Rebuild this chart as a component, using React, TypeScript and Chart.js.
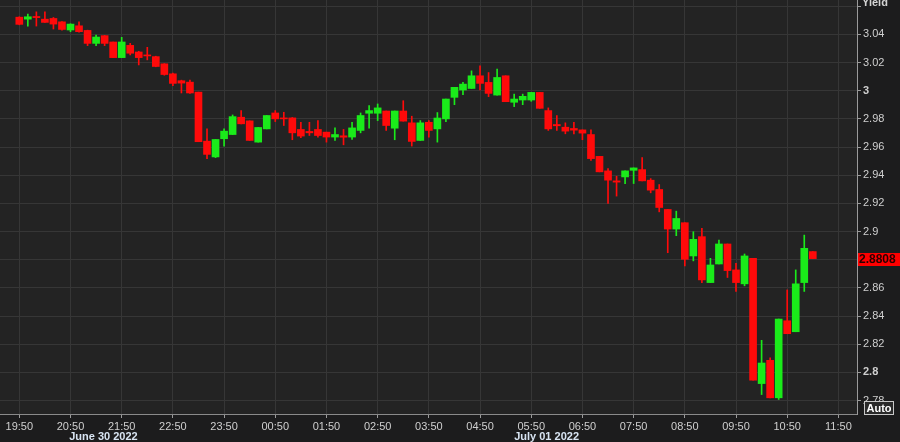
import React, { useEffect, useRef } from "react";
import { Chart, registerables } from "chart.js";

Chart.register(...registerables);

// 10-minute candles starting 19:50 (June 30 2022)
const opens = [
  3.0522, 3.0508, 3.0527, 3.0508, 3.0513, 3.0489, 3.0431, 3.0461, 3.0428, 3.0336,
  3.0391, 3.0346, 3.0235, 3.0322, 3.0275, 3.0254, 3.0242, 3.0191, 3.012, 3.0071,
  3.0061, 2.999, 2.9642, 2.953, 2.9659, 2.9689, 2.9812, 2.9786, 2.9635, 2.9729,
  2.9842, 2.9807, 2.9807, 2.9725, 2.9711, 2.9725, 2.9706, 2.9671, 2.968, 2.9671,
  2.9718, 2.984, 2.984, 2.9856, 2.9734, 2.9856, 2.9772, 2.9647, 2.9776, 2.9729,
  2.98, 2.9953, 3.0005, 3.0016, 3.0106, 3.0059, 2.9969, 3.0106, 2.9918, 2.9934,
  2.9934, 2.9988, 2.9859, 2.976, 2.9741, 2.9732, 2.9722, 2.9689, 2.9534, 2.9431,
  2.936, 2.9388, 2.9435, 2.944, 2.9365, 2.9299, 2.9157, 2.9018, 2.9063, 2.8827,
  2.8964, 2.8638, 2.877, 2.8912, 2.8728, 2.8629, 2.881, 2.7921, 2.8086, 2.782,
  2.8367, 2.8289, 2.8638, 2.8858,
];
const highs = [
  3.0525, 3.0544, 3.056, 3.056, 3.052, 3.049, 3.0475, 3.0489, 3.043, 3.0395,
  3.0392, 3.0346, 3.0379, 3.0336, 3.028, 3.0308, 3.0245, 3.0192, 3.0125, 3.0075,
  3.0075, 2.999, 2.973, 2.9654, 2.9729, 2.9828, 2.9859, 2.9786, 2.9739, 2.9824,
  2.9859, 2.9847, 2.981, 2.9776, 2.9776, 2.9788, 2.9706, 2.9736, 2.9725, 2.9776,
  2.9842, 2.9894, 2.9906, 2.9856, 2.9856, 2.9929, 2.9819, 2.9788, 2.9788, 2.9845,
  2.9941, 3.0024, 3.0059, 3.0141, 3.0176, 3.0129, 3.0153, 3.0106, 2.9976, 2.9976,
  2.9988, 2.9988, 2.9878, 2.9824, 2.9772, 2.9776, 2.9722, 2.9722, 2.9534, 2.9447,
  2.9393, 2.9431, 2.9452, 2.9525, 2.9376, 2.9334, 2.9157, 2.9145, 2.9063, 2.8999,
  2.9023, 2.881, 2.894, 2.8912, 2.8775, 2.8841, 2.881, 2.8228, 2.8103, 2.8379,
  2.8586, 2.8728, 2.8975, 2.8858,
];
const lows = [
  3.0468, 3.0459, 3.0459, 3.0485, 3.0438, 3.043, 3.0419, 3.0415, 3.032, 3.032,
  3.032, 3.0235, 3.0235, 3.0254, 3.0183, 3.0219, 3.017, 3.011, 3.0035, 2.9984,
  2.998, 2.9638, 2.9518, 2.9525, 2.9607, 2.9689, 2.9765, 2.9647, 2.9635, 2.9729,
  2.9781, 2.9753, 2.9652, 2.9666, 2.9682, 2.967, 2.9635, 2.9647, 2.9616, 2.9654,
  2.9701, 2.9734, 2.9788, 2.9718, 2.9652, 2.9784, 2.9607, 2.9647, 2.9671, 2.9635,
  2.9781, 2.9901, 2.9972, 3.0016, 3.0005, 2.9958, 2.9969, 2.9922, 2.9887, 2.9901,
  2.9925, 2.9875, 2.9718, 2.9718, 2.9694, 2.9694, 2.9652, 2.9506, 2.9424, 2.92,
  2.9252, 2.9341, 2.9341, 2.936, 2.9275, 2.914, 2.885, 2.8971, 2.8756, 2.8792,
  2.8638, 2.8638, 2.877, 2.8674, 2.8575, 2.8615, 2.7945, 2.7843, 2.782, 2.7808,
  2.8275, 2.8289, 2.8575, 2.8808,
];
const closes = [
  3.0471, 3.0525, 3.0519, 3.0485, 3.0473, 3.0435, 3.0473, 3.0419, 3.0336, 3.0381,
  3.0336, 3.0235, 3.0346, 3.0266, 3.0235, 3.0247, 3.0172, 3.0115, 3.0052, 3.0054,
  2.9984, 2.9638, 2.9548, 2.9654, 2.9713, 2.9816, 2.9765, 2.9647, 2.9739, 2.9824,
  2.98, 2.98, 2.9701, 2.9678, 2.9701, 2.9682, 2.9671, 2.9689, 2.967, 2.9736,
  2.9824, 2.9859, 2.9878, 2.9753, 2.9856, 2.9784, 2.964, 2.9772, 2.9718, 2.9806,
  2.9941, 3.0024, 3.0047, 3.0106, 3.0052, 2.9981, 3.0094, 2.9922, 2.9941, 2.996,
  2.9988, 2.9875, 2.9729, 2.9751, 2.9713, 2.972, 2.9699, 2.9518, 2.9424, 2.9365,
  2.9351, 2.9431, 2.9452, 2.936, 2.9294, 2.9171, 2.9018, 2.9093, 2.8803, 2.8945,
  2.8657, 2.8763, 2.8912, 2.8723, 2.8638, 2.8827, 2.7945, 2.8067, 2.782, 2.8379,
  2.8275, 2.8629, 2.8881, 2.8808,
];

// one label per hour (every 6th candle)
const hourLabels = [
  "19:50", "20:50", "21:50", "22:50", "23:50", "00:50", "01:50", "02:50", "03:50",
  "04:50", "05:50", "06:50", "07:50", "08:50", "09:50", "10:50", "11:50",
];
const candlesPerHour = 6;
const dateLabels = ["June 30 2022", "July 01 2022"];
const dateLabelAnchors = [5.85, 58];

const yTickValues = [2.78, 2.8, 2.82, 2.84, 2.86, 2.88, 2.9, 2.92, 2.94, 2.96, 2.98, 3.0, 3.02, 3.04, 3.06];
const yTickLabels = ["2.78", "2.8", "2.82", "2.84", "2.86", "", "2.9", "2.92", "2.94", "2.96", "2.98", "3", "3.02", "3.04", ""];
const boldYTicks = [2.8, 3.0];
const axisTitle = "Yield";
const lastPriceText = "2.8808";
const autoText = "Auto";

const UP = "#1aeb1a";
const DOWN = "#ff0a0a";
const FONT = "'Liberation Sans', Arial, sans-serif";

export default function App() {
  const ref = useRef<HTMLCanvasElement | null>(null);

  useEffect(() => {
    document.body.style.margin = "0";
    const canvas = ref.current!;
    const colors = opens.map((o, i) => (closes[i] >= o ? UP : DOWN));

    const decor = {
      id: "decor",
      beforeDraw(chart: any) {
        const { ctx, chartArea: a, width, height } = chart;
        ctx.save();
        ctx.fillStyle = "#1c1c1d";
        ctx.fillRect(0, 0, width, height);
        ctx.fillStyle = "#232323";
        ctx.fillRect(a.left, a.top, a.right - a.left, a.bottom - a.top);
        ctx.restore();
      },
      afterDraw(chart: any) {
        const { ctx, chartArea: a } = chart;
        const ys = chart.scales.y;
        const xs = chart.scales.x;
        ctx.save();
        ctx.font = `bold 11px ${FONT}`;
        ctx.fillStyle = "#d4d4d4";
        ctx.textAlign = "left";
        ctx.textBaseline = "middle";
        ctx.fillText(axisTitle, a.right + 5, 3);
        const py = Math.round(ys.getPixelForValue(closes[closes.length - 1]));
        ctx.fillStyle = "#ff0000";
        ctx.fillRect(a.right + 1, py - 6, 43, 13);
        ctx.fillStyle = "#2a0000";
        ctx.font = `bold 12px ${FONT}`;
        ctx.fillText(lastPriceText, a.right + 2, py + 1);
        ctx.fillStyle = "#2a2a2a";
        ctx.fillRect(a.right + 7, 401, 29, 13);
        ctx.strokeStyle = "#c8c8c8";
        ctx.lineWidth = 1;
        ctx.strokeRect(a.right + 7.5, 401.5, 29, 13);
        ctx.fillStyle = "#ffffff";
        ctx.font = `bold 11px ${FONT}`;
        ctx.textAlign = "center";
        ctx.fillText(autoText, a.right + 22, 408.5);
        ctx.textAlign = "left";
        ctx.fillStyle = "#d8e4f2";
        ctx.font = `bold 11px ${FONT}`;
        dateLabels.forEach((t, k) => {
          ctx.fillText(t, xs.getPixelForValue(dateLabelAnchors[k]), 437);
        });
        ctx.restore();
      },
    };

    const chart = new Chart(canvas, {
      type: "bar",
      data: {
        datasets: [
          {
            label: "body",
            data: opens.map((o, i) => ({ x: i, y: [o, closes[i]] })) as any,
            backgroundColor: colors,
            borderWidth: 0,
            barThickness: 7,
            minBarLength: 1,
            grouped: false,
          } as any,
          {
            label: "wick",
            data: highs.map((h, i) => ({ x: i, y: [lows[i], h] })) as any,
            backgroundColor: colors,
            borderWidth: 0,
            barThickness: 1,
            grouped: false,
          } as any,
        ],
      },
      plugins: [decor],
      options: {
        responsive: false,
        animation: false,
        layout: { padding: 0 },
        plugins: { legend: { display: false }, tooltip: { enabled: false } },
        scales: {
          x: {
            type: "linear",
            min: -2.262,
            max: 98.18,
            offset: false,
            afterFit: (s: any) => {
              s.height = 28;
              s.paddingLeft = 0;
              s.paddingRight = 0;
            },
            afterBuildTicks: (s: any) => {
              s.ticks = hourLabels.map((_, k) => ({ value: k * candlesPerHour }));
            },
            grid: { color: "#363636", tickColor: "#9a9a9a", tickLength: 4, offset: false },
            border: { color: "#8a8a8a" },
            ticks: {
              autoSkip: false,
              maxRotation: 0,
              color: "#cfcfcf",
              padding: 2,
              font: { family: FONT, size: 11 },
              callback: (v: any) => hourLabels[Math.round(Number(v) / candlesPerHour)] ?? "",
            },
          },
          y: {
            type: "linear",
            position: "right",
            min: 2.7705,
            max: 3.0644,
            beginAtZero: false,
            afterFit: (s: any) => {
              s.width = 43;
              s.paddingTop = 0;
              s.paddingBottom = 0;
            },
            afterBuildTicks: (s: any) => {
              s.ticks = yTickValues.map((v) => ({ value: v }));
            },
            grid: { color: "#363636", tickColor: "#9a9a9a", tickLength: 4 },
            border: { color: "#9a9a9a" },
            ticks: {
              color: "#cfcfcf",
              padding: 2,
              font: (c: any) => ({
                family: FONT,
                size: 11,
                weight: c.tick && boldYTicks.some((b) => Math.abs(b - c.tick.value) < 1e-6) ? "bold" : "normal",
              }),
              callback: (v: any) => {
                const k = yTickValues.findIndex((t) => Math.abs(t - Number(v)) < 1e-6);
                return k >= 0 ? yTickLabels[k] : "";
              },
            },
          },
        },
      } as any,
    });
    return () => chart.destroy();
  }, []);

  return (
    <div style={{ position: "fixed", left: 0, top: 0, width: 900, height: 442 }}>
      <canvas ref={ref} width={900} height={442} style={{ display: "block" }} />
    </div>
  );
}
